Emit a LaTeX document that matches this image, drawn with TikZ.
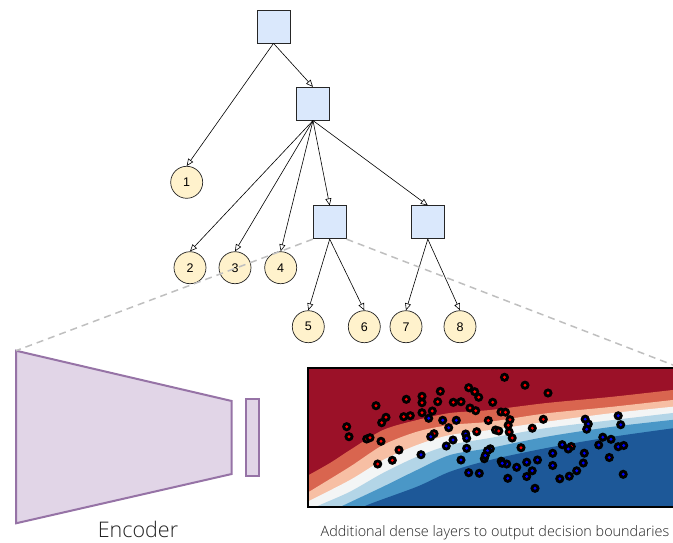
\documentclass[tikz,border=0pt]{standalone}
\usepackage{fontspec}
\setmainfont{Liberation Sans}
\IfFontExistsTF{Open Sans Light}{\newfontfamily\lightfont{Open Sans Light}}{\newfontfamily\lightfont{Open Sans}}
\usetikzlibrary{arrows.meta}
\definecolor{cDR}{HTML}{9B1128}
\definecolor{cOR}{HTML}{D9654F}
\definecolor{cSA}{HTML}{F7BFA4}
\definecolor{cWH}{HTML}{F3F5F5}
\definecolor{cLB}{HTML}{B3D5E7}
\definecolor{cMB}{HTML}{4A97C7}
\definecolor{cDB}{HTML}{1D5898}
\definecolor{boxfill}{HTML}{DAE8FC}
\definecolor{leaffill}{HTML}{FFF2CC}
\definecolor{encfill}{HTML}{E1D5E7}
\definecolor{encline}{HTML}{9673A6}
\definecolor{txtgray}{HTML}{222222}
\tikzset{
  treebox/.style={draw=black!85, fill=boxfill, line width=0.7pt, minimum width=33pt, minimum height=33pt, inner sep=0pt},
  leaf/.style={circle, draw=black!85, fill=leaffill, line width=0.7pt, minimum size=32pt, inner sep=0pt, font=\fontsize{12.5}{14}\selectfont},
  arr/.style={line width=0.6pt, -{Triangle[open, length=7pt, width=6pt]}},
  zoomline/.style={draw=black!25, line width=1.5pt, dash pattern=on 7pt off 5pt},
  enc/.style={draw=encline, fill=encfill, line width=2pt, line join=miter}
}
\begin{document}
\begin{tikzpicture}[x=1pt, y=-1pt]
\useasboundingbox (0,0) rectangle (673,543);
% tree
\node[treebox] (b1) at (273.5,26.5) {};
\node[treebox] (b2) at (313,103.7) {};
\node[treebox] (b3) at (329.7,222.3) {};
\node[treebox] (b4) at (427.8,222.3) {};
\node[leaf] (c1) at (186.7,182.3) {1};
\node[leaf] (c2) at (190,267.7) {2};
\node[leaf] (c3) at (235,267.7) {3};
\node[leaf] (c4) at (280.7,267.7) {4};
\node[leaf] (c5) at (308.3,326.7) {5};
\node[leaf] (c6) at (364.3,326.7) {6};
\node[leaf] (c7) at (406,326.7) {7};
\node[leaf] (c8) at (460,326.7) {8};
\draw[arr] (b1.south) -- (c1.north);
\draw[arr] (b1.south) -- (b2.north);
\draw[arr] (b2.south) -- (c2.north);
\draw[arr] (b2.south) -- (c3.north);
\draw[arr] (b2.south) -- (c4.north);
\draw[arr] (b2.south) -- (b3.north);
\draw[arr] (b2.south) -- (b4.north);
\draw[arr] (b3.south) -- (c5.north);
\draw[arr] (b3.south) -- (c6.north);
\draw[arr] (b4.south) -- (c7.north);
\draw[arr] (b4.south) -- (c8.north);
% encoder
\coordinate (e1) at (16,350.7);
\draw[enc] (e1) -- (231.7,401) -- (231.7,474) -- (16,523.3) -- cycle;
\draw[enc] (245.7,399.3) rectangle (259.3,475.7);
\node[font=\lightfont\fontsize{21.5}{24}\selectfont, text=txtgray, anchor=base, inner sep=0pt] (enclabel) at (138,537.7) {Encoder};
% plot
\coordinate (ptr) at (680,367.7);
\begin{scope}
\clip (307.5,367.7) rectangle (690,506.5);
\fill[cDR] (300,360) rectangle (690,515);
\fill[cOR] plot[smooth] coordinates {(300,480) (307,476) (330,463) (350,450) (383,430) (417,420) (450,413) (490,410) (546.7,403) (613,396.7) (690,388)} -- (690,515) -- (300,515) -- cycle;
\fill[cSA] plot[smooth] coordinates {(300,497) (307,493) (350,466.7) (383,445) (417,431.7) (450,425) (490,421.7) (546.7,413.3) (613,406.7) (690,398)} -- (690,515) -- (300,515) -- cycle;
\fill[cWH] plot[smooth] coordinates {(300,506) (307,502) (350,480) (383,460) (417,445) (450,435) (490,430) (546.7,421.7) (613,413) (690,405)} -- (690,515) -- (300,515) -- cycle;
\fill[cLB] plot[smooth] coordinates {(300,515) (320,505) (350,491.7) (383,473) (417,456.7) (450,445) (490,438) (546.7,428) (613,420) (690,411)} -- (690,515) -- (300,515) -- cycle;
\fill[cMB] plot[smooth] coordinates {(318,518) (340,507) (383,486.7) (417,470) (450,455) (490,448) (546.7,436.7) (613,426.7) (690,418)} -- (690,515) -- (300,515) -- cycle;
\fill[cDB] plot[smooth] coordinates {(340,520) (365,506) (417,486.7) (450,471.7) (490,460) (546.7,448) (613,436.7) (690,426)} -- (690,515) -- (300,515) -- cycle;
\foreach \x/\y in {346.7/426.7, 349/436.7, 376/405.7, 386/417.3, 381.7/422.7, 366.7/439, 370/437.7, 381/441.3, 377.7/464, 392.3/460.3, 399/450, 406.3/399.3, 403.7/416.7, 410.3/415.7, 422/396.3, 422/402.7, 422/412.7, 432.3/411, 437.7/401.7, 440.3/391.3, 434/433.7, 453.3/402.3, 461/401.7, 468.7/387.7, 474.7/391.7, 478.7/397.3, 470/408, 475.7/410.7, 476.7/431.7, 488.3/420.5, 504.5/377.3, 525/385.2, 548/393, 492.7/402.3, 501/412, 505.5/412.2, 510/419.7, 508.2/425.2, 495.5/430, 498.8/431, 509.2/432, 512.2/438, 532.3/428.2, 543.3/419.3, 521/447.7, 571.3/446.5}
  {\fill[black] (\x,\y) circle (4.6pt); \fill[red] (\x,\y) circle (1.6pt);}
\foreach \x/\y in {428.7/418.3, 442.7/420.3, 456.3/420.3, 448.7/427.7, 430.7/436.7, 453/440, 446.3/446, 421/454.7, 465.7/434, 466.7/438.3, 466.7/448.3, 461/460, 468.7/472.7, 479.3/473.3, 484.3/458.7, 490.3/448.8, 487.5/450.7, 485.3/455.5, 501.2/461.2, 506.7/464, 502.2/463.3, 516.7/467.3, 526.7/462.2, 537.5/460, 532.2/470.8, 526.7/476.5, 507.8/478.3, 535/488.3, 552.7/453.3, 552.7/465.5, 562.2/444.7, 568.2/449, 584.3/453.2, 583.3/463, 576.7/470.8, 569.3/476.2, 559.8/478.8, 585.2/419.2, 588.3/424, 586.7/429.2, 598.7/445, 602.8/437.2, 611/439.3, 609.3/457.5, 618.2/415.8, 620.7/424.7, 618.2/446.7, 623.7/445.5, 623.2/474.3}
  {\fill[black] (\x,\y) circle (4.6pt); \fill[blue] (\x,\y) circle (1.6pt);}
\end{scope}
\draw[black, line width=2pt] (307.5,367.7) rectangle (690,506.5);
\node[font=\lightfont\fontsize{14.4}{16}\selectfont, text=txtgray, anchor=base, inner sep=0pt] (caption) at (495,536) {Additional dense layers to output decision boundaries};
% zoom lines
\draw[zoomline] (b3.south west) -- (e1);
\draw[zoomline] (b3.south east) -- (ptr);
\end{tikzpicture}
\end{document}
